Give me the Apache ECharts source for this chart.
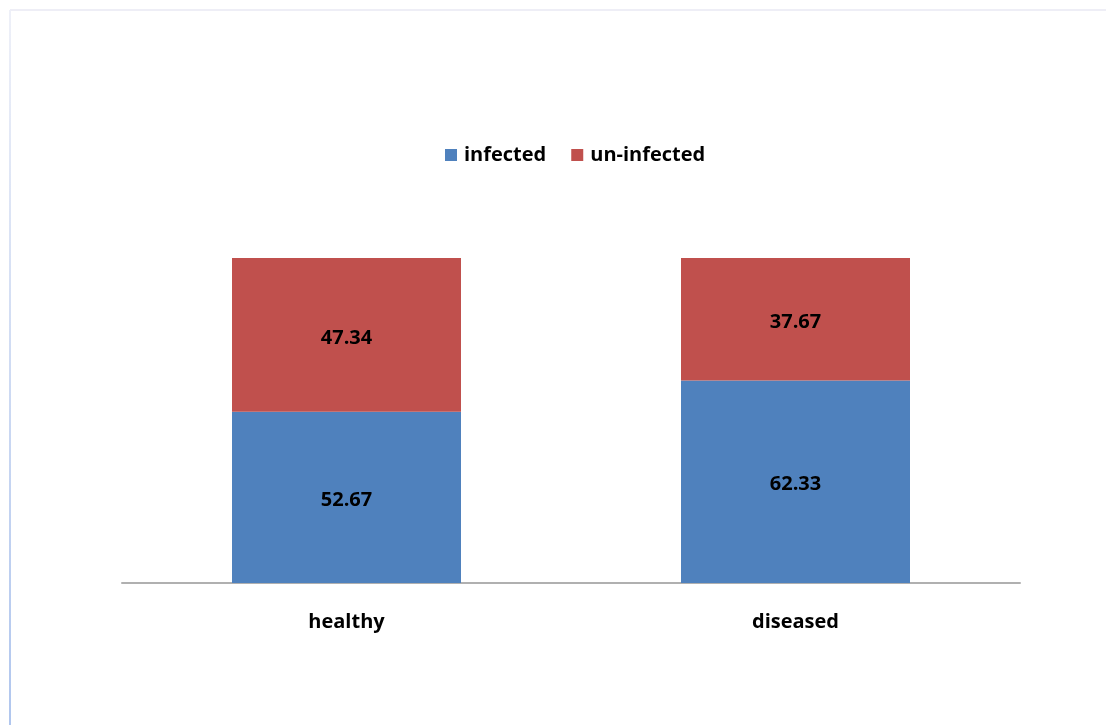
<!DOCTYPE html>
<html><head><meta charset="utf-8">
<script src="https://cdn.jsdelivr.net/npm/echarts@6/dist/echarts.min.js"></script>
<style>html,body{margin:0;padding:0;background:#fff}#c{width:1106px;height:725px}</style>
</head><body><div id="c"></div>
<script>
const categories = ['healthy', 'diseased'];
const infected = [52.67, 62.33];
const unInfected = [47.34, 37.67];
const seriesNames = ['infected', 'un-infected'];

const chart = echarts.init(document.getElementById('c'));
const font = '"Open Sans", "Liberation Sans", sans-serif';
const lbl = {show: true, position: 'inside', offset: [0, 3], color: '#000', fontWeight: 'bold', fontSize: 20, fontFamily: font};
chart.setOption({
  animation: false,
  backgroundColor: '#fff',
  graphic: [
    {type: 'line', shape: {x1: 10, y1: 10, x2: 1106, y2: 10}, style: {stroke: '#eeeef6', lineWidth: 2}},
    {type: 'line', shape: {x1: 10, y1: 10, x2: 10, y2: 725}, style: {stroke: {type: 'linear', x: 0, y: 0, x2: 0, y2: 1, colorStops: [{offset: 0, color: '#eef0f8'}, {offset: 1, color: '#b0c6ee'}]}, lineWidth: 2}}
  ],
  legend: {
    data: seriesNames, top: 140, left: 440, icon: 'rect', itemWidth: 12, itemHeight: 12, itemGap: 25,
    textStyle: {fontSize: 20, fontWeight: 'bold', color: '#000', fontFamily: font, padding: [0, 0, 0, 2]}
  },
  grid: {left: 122, right: 86, top: 258, bottom: 142},
  xAxis: {
    type: 'category', data: categories,
    axisLine: {lineStyle: {color: '#b0b0b0', width: 2}},
    axisTick: {show: false},
    axisLabel: {color: '#000', fontWeight: 'bold', fontSize: 20, fontFamily: font, margin: 29}
  },
  yAxis: {type: 'value', min: 0, max: 100.01, show: false, splitLine: {show: false}},
  series: [
    {name: seriesNames[0], type: 'bar', stack: 's', data: infected, barWidth: 229, itemStyle: {color: '#4f81bd'}, label: lbl},
    {name: seriesNames[1], type: 'bar', stack: 's', data: unInfected, barWidth: 229, itemStyle: {color: '#c0504d'}, label: lbl}
  ]
});
</script></body></html>
